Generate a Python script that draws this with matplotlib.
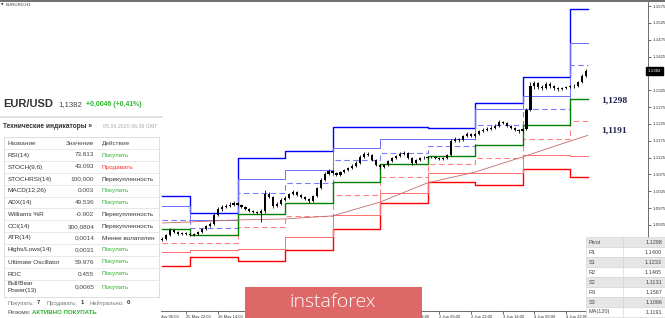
import matplotlib
matplotlib.use("Agg")
import matplotlib.pyplot as plt
from matplotlib.patches import Rectangle
from matplotlib.lines import Line2D
import matplotlib.transforms as mtransforms

plt.rcParams['font.family'] = ['Liberation Sans', 'DejaVu Sans']

# ---------------- data ----------------
# 2-hour bars, x = trading hours since 25 May 00:00 (weekend removed)
bar_t = list(range(10, 226, 2))
opens = [1.0880, 1.0883, 1.0895, 1.0910, 1.0904, 1.0898, 1.0901, 1.0898, 1.0895, 1.0898,
         1.0904, 1.0913, 1.0922, 1.0928, 1.0955, 1.0972, 1.0978, 1.0981, 1.0984, 1.0990,
         1.0984, 1.0978, 1.0972, 1.0967, 1.0964, 1.0961, 1.0967, 1.1017, 1.1008, 1.0981,
         1.0987, 1.0999, 1.1005, 1.1017, 1.1023, 1.1014, 1.1008, 1.1002, 1.0996, 1.1011,
         1.1035, 1.1059, 1.1076, 1.1085, 1.1079, 1.1073, 1.1082, 1.1088, 1.1094, 1.1100,
         1.1109, 1.1127, 1.1136, 1.1133, 1.1118, 1.1103, 1.1097, 1.1103, 1.1115, 1.1124,
         1.1130, 1.1136, 1.1139, 1.1124, 1.1109, 1.1118, 1.1124, 1.1124, 1.1127, 1.1127,
         1.1124, 1.1121, 1.1124, 1.1133, 1.1174, 1.1180, 1.1177, 1.1189, 1.1195, 1.1189,
         1.1195, 1.1204, 1.1207, 1.1210, 1.1213, 1.1219, 1.1231, 1.1228, 1.1219, 1.1213,
         1.1207, 1.1204, 1.1210, 1.1266, 1.1338, 1.1346, 1.1335, 1.1332, 1.1344, 1.1338,
         1.1332, 1.1329, 1.1332, 1.1335, 1.1338, 1.1338, 1.1349, 1.1367]
closes = [1.0883, 1.0895, 1.0910, 1.0904, 1.0898, 1.0901, 1.0898, 1.0895, 1.0898, 1.0904,
          1.0913, 1.0922, 1.0928, 1.0955, 1.0972, 1.0978, 1.0981, 1.0984, 1.0990, 1.0984,
          1.0978, 1.0972, 1.0967, 1.0964, 1.0961, 1.0967, 1.1017, 1.1008, 1.0981, 1.0987,
          1.0999, 1.1005, 1.1017, 1.1023, 1.1014, 1.1008, 1.1002, 1.0996, 1.1011, 1.1035,
          1.1059, 1.1076, 1.1085, 1.1079, 1.1073, 1.1082, 1.1088, 1.1094, 1.1100, 1.1109,
          1.1127, 1.1136, 1.1133, 1.1118, 1.1103, 1.1097, 1.1103, 1.1115, 1.1124, 1.1130,
          1.1136, 1.1139, 1.1124, 1.1109, 1.1118, 1.1124, 1.1124, 1.1127, 1.1127, 1.1124,
          1.1121, 1.1124, 1.1133, 1.1174, 1.1180, 1.1177, 1.1189, 1.1195, 1.1189, 1.1195,
          1.1204, 1.1207, 1.1210, 1.1213, 1.1219, 1.1231, 1.1228, 1.1219, 1.1213, 1.1207,
          1.1204, 1.1210, 1.1266, 1.1338, 1.1346, 1.1335, 1.1332, 1.1344, 1.1338, 1.1332,
          1.1329, 1.1332, 1.1335, 1.1338, 1.1338, 1.1349, 1.1367, 1.1382]
highs = [1.0888, 1.0899, 1.0915, 1.0913, 1.0907, 1.0905, 1.0904, 1.0901, 1.0902, 1.0907,
         1.0916, 1.0926, 1.0933, 1.0960, 1.0978, 1.0984, 1.0988, 1.0992, 1.0996, 1.0993,
         1.0987, 1.0981, 1.0975, 1.0970, 1.0968, 1.0971, 1.1029, 1.1024, 1.1011, 1.0992,
         1.1004, 1.1010, 1.1021, 1.1028, 1.1027, 1.1018, 1.1012, 1.1006, 1.1014, 1.1039,
         1.1064, 1.1081, 1.1090, 1.1089, 1.1083, 1.1086, 1.1092, 1.1098, 1.1105, 1.1114,
         1.1132, 1.1142, 1.1141, 1.1137, 1.1121, 1.1107, 1.1107, 1.1119, 1.1128, 1.1134,
         1.1141, 1.1145, 1.1142, 1.1127, 1.1122, 1.1128, 1.1129, 1.1131, 1.1131, 1.1130,
         1.1127, 1.1128, 1.1137, 1.1180, 1.1186, 1.1184, 1.1193, 1.1200, 1.1199, 1.1199,
         1.1208, 1.1212, 1.1215, 1.1218, 1.1224, 1.1236, 1.1235, 1.1231, 1.1222, 1.1216,
         1.1210, 1.1214, 1.1272, 1.1350, 1.1352, 1.1350, 1.1340, 1.1349, 1.1348, 1.1342,
         1.1336, 1.1336, 1.1339, 1.1342, 1.1343, 1.1353, 1.1372, 1.1388]
lows = [1.0876, 1.0881, 1.0893, 1.0900, 1.0895, 1.0895, 1.0894, 1.0892, 1.0892, 1.0896,
        1.0902, 1.0910, 1.0919, 1.0926, 1.0952, 1.0968, 1.0974, 1.0977, 1.0980, 1.0980,
        1.0974, 1.0969, 1.0963, 1.0960, 1.0958, 1.0934, 1.0962, 1.1004, 1.0975, 1.0977,
        1.0984, 1.0995, 1.1002, 1.1013, 1.1010, 1.1004, 1.0998, 1.0991, 1.0993, 1.1008,
        1.1032, 1.1055, 1.1072, 1.1075, 1.1069, 1.1070, 1.1079, 1.1085, 1.1091, 1.1097,
        1.1106, 1.1123, 1.1129, 1.1114, 1.1099, 1.1092, 1.1094, 1.1100, 1.1112, 1.1121,
        1.1127, 1.1133, 1.1120, 1.1104, 1.1106, 1.1115, 1.1120, 1.1121, 1.1123, 1.1120,
        1.1117, 1.1118, 1.1121, 1.1130, 1.1170, 1.1172, 1.1174, 1.1185, 1.1185, 1.1186,
        1.1192, 1.1200, 1.1203, 1.1206, 1.1209, 1.1215, 1.1224, 1.1215, 1.1209, 1.1203,
        1.1199, 1.1200, 1.1207, 1.1262, 1.1330, 1.1328, 1.1326, 1.1328, 1.1333, 1.1327,
        1.1324, 1.1325, 1.1328, 1.1331, 1.1333, 1.1334, 1.1345, 1.1363]

# daily pivot levels (day start in trading hours)
day_starts = [10, 24, 48, 72, 96, 120, 144, 168, 192, 216]
day_end = 225
lvl_R3 = [1.1011, 1.0961, 1.1123, 1.1146, 1.1217, 1.1215, 1.1213, 1.1286, 1.1363, 1.1567]
lvl_R2 = [1.0982, 1.0940, 1.1061, 1.1088, 1.1153, 1.1179, 1.1179, 1.1268, 1.1309, 1.1465]
lvl_R1 = [1.0940, 1.0915, 1.1021, 1.1051, 1.1118, 1.1140, 1.1159, 1.1222, 1.1270, 1.1400]
lvl_P = [1.0913, 1.0895, 1.0958, 1.0991, 1.1054, 1.1105, 1.1131, 1.1162, 1.1222, 1.1298]
lvl_S1 = [1.0872, 1.0872, 1.0918, 1.0952, 1.1014, 1.1066, 1.1106, 1.1125, 1.1180, 1.1233]
lvl_S2 = [1.0844, 1.0851, 1.0853, 1.0890, 1.0955, 1.1019, 1.1078, 1.1078, 1.1133, 1.1131]
lvl_S3 = [1.0803, 1.0831, 1.0818, 1.0851, 1.0912, 1.0989, 1.1054, 1.1044, 1.1090, 1.1066]

ma_t = [10, 24, 48, 72, 96, 120, 144, 168, 192, 216, 225]
ma_v = [1.0931, 1.0934, 1.0940, 1.0943, 1.0952, 1.0993, 1.1050, 1.1082, 1.1127, 1.1174, 1.1191]

price_ticks = [1.0925, 1.0975, 1.1025, 1.1075, 1.1125, 1.1175, 1.1225, 1.1275, 1.1325,
               1.1425, 1.1475, 1.1525, 1.1575]
time_tick_t = [6, 22, 38, 54, 70, 86, 102, 118, 134, 150, 166, 182, 198, 214]
time_tick_lbl = ["25 May 06:00", "25 May 22:00", "26 May 14:00", "27 May 06:00", "27 May 22:00",
                 "28 May 14:00", "29 May 06:00", "29 May 22:00", "1 Jun 14:00", "2 Jun 06:00",
                 "2 Jun 22:00", "3 Jun 14:00", "4 Jun 06:00", "4 Jun 22:00"]
last_price = 1.1382

ind_names = ["RSI(14)", "STOCH(9,6)", "STOCHRSI(14)", "MACD(12,26)", "ADX(14)", "Williams %R",
             "CCI(14)", "ATR(14)", "Highs/Lows(14)", "Ultimate Oscillator", "ROC", "Bull/Bear"]
ind_values = ["73.813", "43.093", "100,000", "0.003", "49.536", "-0.902", "300,0804",
              "0,0014", "0,0031", "59.976", "0.455", "0,0065"]
ind_actions = ["Покупать", "Продавать", "Перекупленность", "Покупать", "Покупать",
               "Перекупленность", "Перекупленность", "Менее волатилен", "Покупать",
               "Покупать", "Покупать", "Покупать"]

piv_labels = ["Pivot", "R1", "S1", "R2", "S2", "R3", "S3", "MA(120)"]
piv_values = ["1.1298", "1.1400", "1.1233", "1.1465", "1.1131", "1.1567", "1.1066", "1.1191"]

# ---------------- figure ----------------
W, H = 665, 318
fig = plt.figure(figsize=(W / 100, H / 100), dpi=100)
fig.patch.set_facecolor('white')


def fx(x):
    return x / W


def fy(y):
    return 1 - y / H


# chart axes: pixel x 0..648, y 2..311
ax = fig.add_axes([0, fy(311), fx(648), (311 - 2) / H])
ax.set_facecolor('white')
ax.set_xlim(-72.0, 255.4)
ax.set_ylim(1.06697, 1.15869)
for s in ['top', 'left']:
    ax.spines[s].set_visible(False)
ax.spines['right'].set_color('#555555')
ax.spines['bottom'].set_color('#555555')
ax.spines['right'].set_linewidth(0.6)
ax.spines['bottom'].set_linewidth(0.6)

ax.yaxis.tick_right()
ax.set_yticks(price_ticks)
ax.set_yticklabels([f"{v:.4f}" for v in price_ticks])
ax.tick_params(axis='y', labelsize=3.2, length=2, width=0.5, pad=1, colors='#333333')
ax.set_xticks(time_tick_t)
ax.set_xticklabels(time_tick_lbl, ha='left')
ax.tick_params(axis='x', labelsize=3.0, length=2, width=0.5, pad=0.8, colors='#333333')


def steps(levels):
    xs = list(day_starts) + [day_end]
    ys = list(levels) + [levels[-1]]
    return xs, ys


line_styles = [
    (lvl_S3, dict(color='#ff0000', lw=1.0)),
    (lvl_S2, dict(color='#ff6e6e', lw=0.7)),
    (lvl_S1, dict(color='#ff8080', lw=0.8, linestyle=(0, (5, 3)))),
    (lvl_R3, dict(color='#0000ff', lw=1.0)),
    (lvl_R2, dict(color='#6c6cff', lw=0.7)),
    (lvl_R1, dict(color='#7a7aff', lw=0.8, linestyle=(0, (5, 3)))),
    (lvl_P, dict(color='#008000', lw=1.0)),
]
for lv, kw in line_styles:
    xs, ys = steps(lv)
    ax.step(xs, ys, where='post', zorder=2, **kw)

ax.plot(ma_t, ma_v, color='#c86a6a', lw=0.6, zorder=2)

# candles
ax.vlines(bar_t, lows, highs, color='black', lw=0.6, zorder=3)
body_h = [c - o if abs(c - o) > 0.00005 else 0.00008 for o, c in zip(opens, closes)]
ax.bar(bar_t, body_h, bottom=opens, width=1.1, color='black', linewidth=0, zorder=3)

# current price box
trans = mtransforms.blended_transform_factory(ax.transAxes, ax.transData)
ax.text(1.0, last_price, f"{last_price:.4f}", transform=trans, fontsize=3.2, color='white',
        ha='left', va='center', zorder=5,
        bbox=dict(boxstyle='square,pad=0.35', facecolor='black', edgecolor='black'))

# big labels
fig.text(fx(601), fy(100), "1,1298", fontsize=6.8, fontweight='bold', color='#22224f',
         family=['Liberation Serif', 'DejaVu Serif'], va='center', ha='left')
fig.text(fx(601), fy(130), "1,1191", fontsize=6.8, fontweight='bold', color='#22224f',
         family=['Liberation Serif', 'DejaVu Serif'], va='center', ha='left')

# top border & chart title
fig.add_artist(Line2D([0, 1], [fy(0.6), fy(0.6)], transform=fig.transFigure, color='#555555', lw=1.2))
fig.text(fx(1), fy(4.5), "▼", fontsize=2.4, color='#333333', va='center', family=['DejaVu Sans'])
fig.text(fx(6), fy(4.5), "EURUSD,H1", fontsize=3.2, color='#333333', va='center')

# ---------------- left panel ----------------
fig.add_artist(Rectangle((0, 0), fx(161), fy(94), transform=fig.transFigure,
                         facecolor='white', edgecolor='none', zorder=4))
fig.text(fx(3), fy(104), "EUR/USD", fontsize=8, fontweight='bold', color='#333333', va='center', zorder=6)
fig.text(fx(58), fy(104.5), "1,1382", fontsize=5.6, color='#444444', va='center', zorder=6)
fig.text(fx(86), fy(104.5), "+0,0046 (+0,41%)", fontsize=5.0, fontweight='bold', color='#2db52d',
         va='center', zorder=6)
fig.add_artist(Line2D([0, fx(162)], [fy(117), fy(117)], transform=fig.transFigure,
                      color='#dddddd', lw=1.2, zorder=5))
fig.text(fx(3), fy(127), "Технические индикаторы »", fontsize=4.8, fontweight='bold',
         color='#333333', va='center', zorder=6)
fig.text(fx(103), fy(127), "05.06.2020 06:36 GMT", fontsize=3.8, color='#aaaaaa', va='center', zorder=6)

fig.add_artist(Rectangle((fx(4), fy(297)), fx(155), (297 - 137) / H, transform=fig.transFigure,
                         facecolor='white', edgecolor='#d8d8d8', lw=0.6, zorder=5))
fs_t = 4.6
fig.text(fx(8), fy(143.3), "Название", fontsize=fs_t, color='#444444', va='center', zorder=6)
fig.text(fx(94.3), fy(143.3), "Значение", fontsize=fs_t, color='#444444', va='center', ha='right', zorder=6)
fig.text(fx(101.7), fy(143.3), "Действие", fontsize=fs_t, color='#444444', va='center', zorder=6)

row_y = [155, 167, 179, 190.7, 202.3, 214.3, 226.3, 238, 250, 262, 274, 287]
sep_y = [149, 161, 173, 185, 196.5, 208.3, 220.3, 232, 244, 256, 268, 280]
for yy in sep_y:
    fig.add_artist(Line2D([fx(4), fx(159)], [fy(yy), fy(yy)], transform=fig.transFigure,
                          color='#e4e4e4', lw=0.6, zorder=6))
for i, (nm, vl, ac) in enumerate(zip(ind_names, ind_values, ind_actions)):
    yy = row_y[i]
    if nm == "Bull/Bear":
        fig.text(fx(8), fy(283.3), "Bull/Bear", fontsize=fs_t, color='#333333', va='center', zorder=6)
        fig.text(fx(8), fy(290.7), "Power(13)", fontsize=fs_t, color='#333333', va='center', zorder=6)
    else:
        fig.text(fx(8), fy(yy), nm, fontsize=fs_t, color='#333333', va='center', zorder=6)
    fig.text(fx(94.3), fy(yy), vl, fontsize=fs_t, color='#444444', va='center', ha='right', zorder=6)
    col = '#33b033' if ac == "Покупать" else ('#ff3333' if ac == "Продавать" else '#333333')
    fig.text(fx(101.7), fy(yy), ac, fontsize=fs_t, color=col, va='center', zorder=6)

fs_b = 4.2
fig.text(fx(8), fy(303), "Покупать:", fontsize=fs_b, color='#777777', va='center', zorder=6)
fig.text(fx(36.5), fy(303), "7", fontsize=fs_b, fontweight='bold', color='#333333', va='center', zorder=6)
fig.text(fx(46.5), fy(303), "Продавать:", fontsize=fs_b, color='#777777', va='center', zorder=6)
fig.text(fx(80.5), fy(303), "1", fontsize=fs_b, fontweight='bold', color='#333333', va='center', zorder=6)
fig.text(fx(90), fy(303), "Нейтрально:", fontsize=fs_b, color='#777777', va='center', zorder=6)
fig.text(fx(126.5), fy(303), "0", fontsize=fs_b, fontweight='bold', color='#333333', va='center', zorder=6)
fig.text(fx(8), fy(312.5), "Резюме:", fontsize=4.4, color='#555555', va='center', zorder=6)
fig.text(fx(32), fy(312.5), "АКТИВНО ПОКУПАТЬ", fontsize=4.4, fontweight='bold', color='#33b033',
         va='center', zorder=6)

# ---------------- instaforex logo ----------------
fig.add_artist(Rectangle((fx(245), 0), fx(177), (318 - 287) / H, transform=fig.transFigure,
                         facecolor='#de6767', edgecolor='none', zorder=7))
fig.text(fx(333), fy(302), "instaforex", fontsize=14, color='white', ha='center', va='center',
         family=['Open Sans', 'DejaVu Sans'], fontweight='light', zorder=8)

# ---------------- pivot table ----------------
for i, (lb, vl) in enumerate(zip(piv_labels, piv_values)):
    y0 = 237 + i * 10
    fc = '#e6e6e6' if i % 2 == 0 else 'white'
    fig.add_artist(Rectangle((fx(586), fy(y0 + 10)), fx(79), 10 / H, transform=fig.transFigure,
                             facecolor=fc, edgecolor='#d0d0d0', lw=0.4, zorder=7))
    fig.text(fx(588.5), fy(y0 + 5), lb, fontsize=4.0, color='#444444', va='center', zorder=8)
    fig.text(fx(662), fy(y0 + 5), vl, fontsize=4.0, color='#444444', va='center', ha='right', zorder=8)
fig.add_artist(Line2D([fx(623), fx(623)], [fy(237), 0], transform=fig.transFigure,
                      color='#d0d0d0', lw=0.4, zorder=8))

fig.savefig("out.png", dpi=100, facecolor='white')
